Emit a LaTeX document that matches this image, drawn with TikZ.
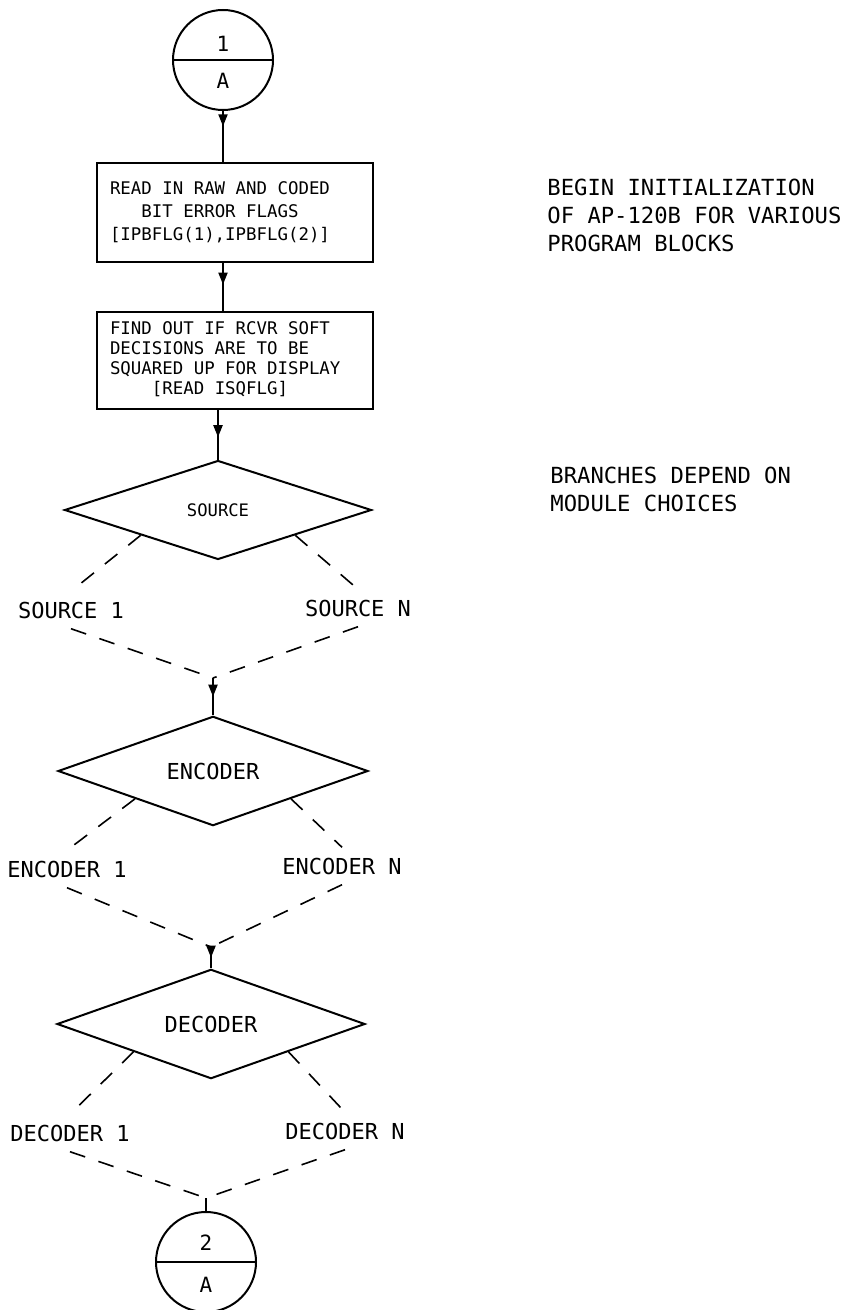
\documentclass[tikz,border=0pt]{standalone}
\usepackage{fontspec}
\newfontfamily\mono{DejaVu Sans Mono}
\usetikzlibrary{shapes.geometric,arrows.meta,decorations.markings}
\newcommand{\boxlines}[1]{\makebox[125pt][l]{\begin{tabular}{@{}l@{}}#1\end{tabular}}}
\tikzset{
  stroke/.style={line width=1pt},
  flowbox/.style={draw, rectangle, line width=1pt, inner xsep=6.5pt, inner ysep=0pt,
    minimum width=138pt, minimum height=#1},
  boxfont/.style={font=\mono\fontsize{8.7}{#1}\selectfont},
  decision/.style={draw, diamond, line width=1pt, inner sep=0pt},
  bigfont/.style={font=\mono\fontsize{11}{13}\selectfont},
  brlabel/.style={inner sep=5pt, bigfont},
  note/.style={anchor=west, align=left, inner sep=0pt, font=\mono\fontsize{11.1}{14}\selectfont},
  conn/.style={draw, circle, line width=1pt, minimum size=50pt, inner sep=0pt},
  conntext/.style={inner sep=0pt, font=\mono\fontsize{10.5}{12}\selectfont},
  branch/.style={line width=0.8pt, dash pattern=on 8pt off 7pt},
  flow/.style={line width=1pt, postaction={decorate},
    decoration={markings, mark=at position #1 with {\arrow{Triangle[length=6pt,width=4.5pt]}}}}
}
\begin{document}
\begin{tikzpicture}[x=0.5pt,y=-0.5pt]
\useasboundingbox (0,0) rectangle (854,1310);

% top connector circle
\node[conn] (c1) at (223,60) {};
\draw[stroke] (c1.west) -- (c1.east);
\node[conntext] (c1t) at (223,44) {1};
\node[conntext] (c1b) at (223,81) {A};

% boxes
\node[flowbox=49.5pt, boxfont=11.5pt] (b1) at (235,212.5)
  {\boxlines{READ IN RAW AND CODED\\\phantom{XXX}BIT ERROR FLAGS\\{[}IPBFLG(1),IPBFLG(2)]}};
\node[flowbox=48.5pt, boxfont=10pt] (b2) at (235,360.5)
  {\boxlines{FIND OUT IF RCVR SOFT\\DECISIONS ARE TO BE\\SQUARED UP FOR DISPLAY\\\phantom{XXXX}[READ ISQFLG]}};

% decisions
\node[decision, minimum width=153.5pt, minimum height=49.5pt,
      font=\mono\fontsize{8.6}{10}\selectfont] (src) at (218,510) {SOURCE};
\node[decision, minimum width=155pt, minimum height=45.5pt, bigfont] (enc) at (213,771) {ENCODER};
\node[decision, minimum width=154pt, minimum height=43pt, bigfont] (dcd) at (211,1024) {DECODER};

% branch labels
\node[brlabel] (s1) at (71,610) {SOURCE 1};
\node[brlabel] (sN) at (358,608) {SOURCE N};
\node[brlabel] (e1) at (67,869) {ENCODER 1};
\node[brlabel] (eN) at (342,866) {ENCODER N};
\node[brlabel] (d1) at (70,1133) {DECODER 1};
\node[brlabel] (dN) at (345,1131) {DECODER N};

\coordinate (m1) at (213,678);
\coordinate (m2) at (211,947);
\coordinate (m3) at (206,1198);

% bottom connector circle
\node[conn] (c2) at (206,1262) {};
\draw[stroke] (c2.west) -- (c2.east);
\node[conntext] (c2t) at (206,1243) {2};
\node[conntext] (c2b) at (206,1285) {A};

% notes
\node[note] (n1) at (547,215) {BEGIN INITIALIZATION\\OF AP-120B FOR VARIOUS\\PROGRAM BLOCKS};
\node[note] (n2) at (550,489) {BRANCHES DEPEND ON\\MODULE CHOICES};

% main flow
\draw[flow=0.3] (c1.south) -- (c1.south |- b1.north);
\draw[flow=0.45] (c1.south |- b1.south) -- (c1.south |- b2.north);
\draw[flow=0.55] (src.north |- b2.south) -- (src.north);
\draw[flow=0.5] (m1) -- (enc.north);
\draw[flow=0.5] (m2) -- (dcd.north);
\draw[stroke] (m3) -- (c2.north);

% branches
\draw[branch] (src.south west) -- (s1.north);
\draw[branch] (s1.south) -- (m1);
\draw[branch] (src.south east) -- (sN.north);
\draw[branch] (sN.south) -- (m1);
\draw[branch] (enc.south west) -- (e1.north);
\draw[branch] (e1.south) -- (m2);
\draw[branch] (enc.south east) -- (eN.north);
\draw[branch] (eN.south) -- (m2);
\draw[branch] (dcd.south west) -- (d1.north);
\draw[branch] (d1.south) -- (m3);
\draw[branch] (dcd.south east) -- (dN.north);
\draw[branch] (dN.south) -- (m3);
\end{tikzpicture}
\end{document}
